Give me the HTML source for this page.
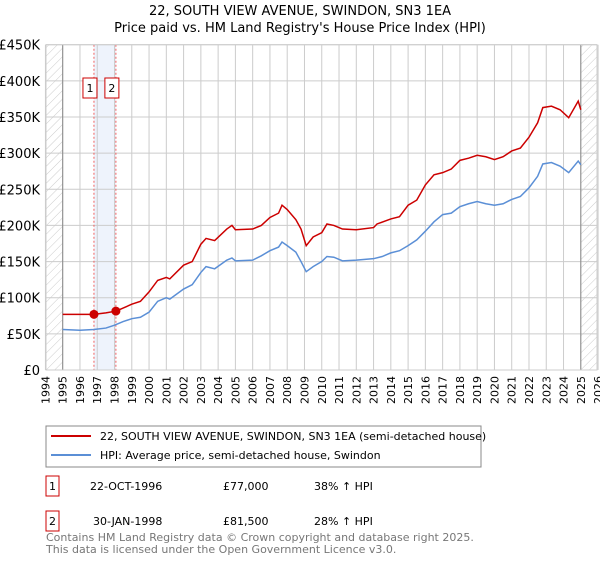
<!DOCTYPE html>
<html><head><meta charset="utf-8"><style>
body{margin:0;background:#fff;font-family:"DejaVu Sans","Liberation Sans",sans-serif;}
</style></head><body>
<svg width="600" height="560" xmlns="http://www.w3.org/2000/svg" style="font-family:'DejaVu Sans','Liberation Sans',sans-serif">
<defs><pattern id="hatch" width="6" height="6" patternUnits="userSpaceOnUse" patternTransform="rotate(45)"><line x1="0" y1="0" x2="0" y2="6" stroke="#ccc" stroke-width="1"/></pattern></defs>
<text x="300" y="15" text-anchor="middle" font-size="13">22, SOUTH VIEW AVENUE, SWINDON, SN3 1EA</text>
<text x="300" y="32" text-anchor="middle" font-size="13">Price paid vs. HM Land Registry's House Price Index (HPI)</text>
<g id="plot"></g>
<g id="legend">
<rect x="46" y="426" width="435" height="41" fill="#fff" stroke="#888"/>
<line x1="51" y1="436" x2="91" y2="436" stroke="#cc0000" stroke-width="2"/>
<text x="100" y="440" font-size="11">22, SOUTH VIEW AVENUE, SWINDON, SN3 1EA (semi-detached house)</text>
<line x1="51" y1="455" x2="91" y2="455" stroke="#5b8fd6" stroke-width="2"/>
<text x="100" y="459" font-size="11">HPI: Average price, semi-detached house, Swindon</text>
</g>
<g font-size="11">
<rect x="46" y="476" width="13" height="20" fill="#fff" stroke="#cc0000"/><text x="52.5" y="490" text-anchor="middle">1</text>
<text x="90" y="490">22-OCT-1996</text><text x="223" y="490">£77,000</text><text x="314" y="490">38% ↑ HPI</text>
<rect x="46" y="511" width="13" height="20" fill="#fff" stroke="#cc0000"/><text x="52.5" y="525" text-anchor="middle">2</text>
<text x="93" y="525">30-JAN-1998</text><text x="223" y="525">£81,500</text><text x="314" y="525">28% ↑ HPI</text>
</g>
<text x="46" y="541" font-size="11" fill="#777">Contains HM Land Registry data © Crown copyright and database right 2025.</text>
<text x="46" y="553" font-size="11" fill="#777">This data is licensed under the Open Government Licence v3.0.</text>
</svg>
<script>
const years=[1994,1995,1996,1997,1998,1999,2000,2001,2002,2003,2004,2005,2006,2007,2008,2009,2010,2011,2012,2013,2014,2015,2016,2017,2018,2019,2020,2021,2022,2023,2024,2025,2026];
const yTicks=[0,50,100,150,200,250,300,350,400,450];
const hpiT=[1995,1996,1996.8,1997.5,1998,1998.5,1999,1999.5,2000,2000.5,2001,2001.2,2002,2002.5,2003,2003.3,2003.8,2004.5,2004.8,2005,2006,2006.5,2007,2007.5,2007.7,2008,2008.5,2008.8,2009.1,2009.5,2010,2010.3,2010.7,2011.2,2012,2013,2013.5,2014,2014.5,2015,2015.5,2016,2016.5,2017,2017.5,2018,2018.5,2019,2019.5,2020,2020.5,2021,2021.5,2022,2022.5,2022.8,2023.3,2023.8,2024.3,2024.85,2025.0];
const hpiV=[56,55,56,58,62,67,71,73,80,95,100,98,112,118,135,143,140,152,155,151,152,158,165,170,177,172,163,150,136,143,150,157,156,151,152,154,157,162,165,172,180,192,205,215,217,226,230,233,230,228,230,236,240,252,268,285,287,282,273,289,284];
const priceT=[1995,1996,1996.8,1997.5,1998.1,1999,1999.5,2000,2000.5,2001,2001.2,2002,2002.5,2003,2003.3,2003.8,2004.5,2004.8,2005,2006,2006.5,2007,2007.5,2007.7,2008,2008.5,2008.8,2009.1,2009.5,2010,2010.3,2010.7,2011.2,2012,2013,2013.2,2014,2014.5,2015,2015.5,2016,2016.5,2017,2017.5,2018,2018.5,2019,2019.5,2020,2020.5,2021,2021.5,2022,2022.5,2022.8,2023.3,2023.8,2024.3,2024.85,2025.0];
const priceV=[77,77,77,79,81.5,91,95,108,124,128,126,145,150,174,182,179,195,200,194,195,200,211,217,228,222,208,195,172,184,190,202,200,195,194,197,202,209,212,228,235,256,270,273,278,290,293,297,295,291,295,303,307,322,342,363,365,360,349,372,360];
const salesT=[1996.81,1998.08];
const salesV=[77,81.5];
const salesLbl=["1","2"];
const X0=46,X1=597,Y0=370,Y1=44.7;
const xs=t=>62.7+(t-1995)*(580.8-62.7)/30;
const ys=v=>Y0-(v/450)*(Y0-Y1);
const g=document.getElementById('plot');
const NS='http://www.w3.org/2000/svg';
function mk(tag,attrs,parent){const e=document.createElementNS(NS,tag);for(const k in attrs)e.setAttribute(k,attrs[k]);(parent||g).appendChild(e);return e;}
let h1=mk('rect',{x:X0,y:Y1,width:xs(1995)-X0,height:Y0-Y1,fill:'url(#hatch)'});


let h2=mk('rect',{x:xs(2025),y:Y1,width:X1-xs(2025),height:Y0-Y1,fill:'url(#hatch)'});


let band=mk('rect',{x:xs(salesT[0]),y:Y1,width:xs(salesT[1])-xs(salesT[0]),height:Y0-Y1,fill:'#eef3fc'});


years.forEach(y=>{
 const l=mk('line',{x1:xs(y),x2:xs(y),y1:Y1,y2:Y0,stroke:'#ccc','stroke-width':1});
 
 
 const t=mk('text',{x:0,y:0,'font-size':11,'text-anchor':'end',transform:`translate(${xs(y)+4},${Y0+6}) rotate(-90)`});
 t.textContent=y;
 
 
});
yTicks.forEach(v=>{
 const l=mk('line',{x1:X0,x2:X1,y1:ys(v),y2:ys(v),stroke:'#ccc','stroke-width':1});
 
 
 const t=mk('text',{x:40,y:ys(v)+5,'font-size':13,'text-anchor':'end'});
 t.textContent=v===0?'£0':'£'+v+'K';
 
 
});
[1995,2025].forEach(y=>{const l=mk('line',{x1:xs(y),x2:xs(y),y1:Y1,y2:Y0,stroke:'#888','stroke-width':1});
 
 });
salesT.forEach((t,i)=>{
 const l=mk('line',{x1:xs(t),x2:xs(t),y1:Y1,y2:Y0,stroke:'#f06060','stroke-width':1,'stroke-dasharray':'2,2'});
 
 
 const bx=mk('rect',{x:xs(t)-11,y:78,width:14,height:20,fill:'#fff',stroke:'#cc0000'});
 
 
 const tx=mk('text',{x:xs(t)-4,y:92,'font-size':11,'text-anchor':'middle'});
 tx.textContent=salesLbl[i];
 
 
});
const hp=mk('polyline',{points:hpiT.map((t,i)=>xs(t)+','+ys(hpiV[i])).join(' '),fill:'none',stroke:'#5b8fd6','stroke-width':1.5});


const pp=mk('polyline',{points:priceT.map((t,i)=>xs(t)+','+ys(priceV[i])).join(' '),fill:'none',stroke:'#cc0000','stroke-width':1.5});


salesT.forEach((t,i)=>{
 const c=mk('circle',{cx:xs(t),cy:ys(salesV[i]),r:4.5,fill:'#cc0000'});
 
 
});
const fr=mk('rect',{x:X0,y:Y1,width:X1-X0,height:Y0-Y1,fill:'none',stroke:'#ccc'});


</script>
</body></html>
